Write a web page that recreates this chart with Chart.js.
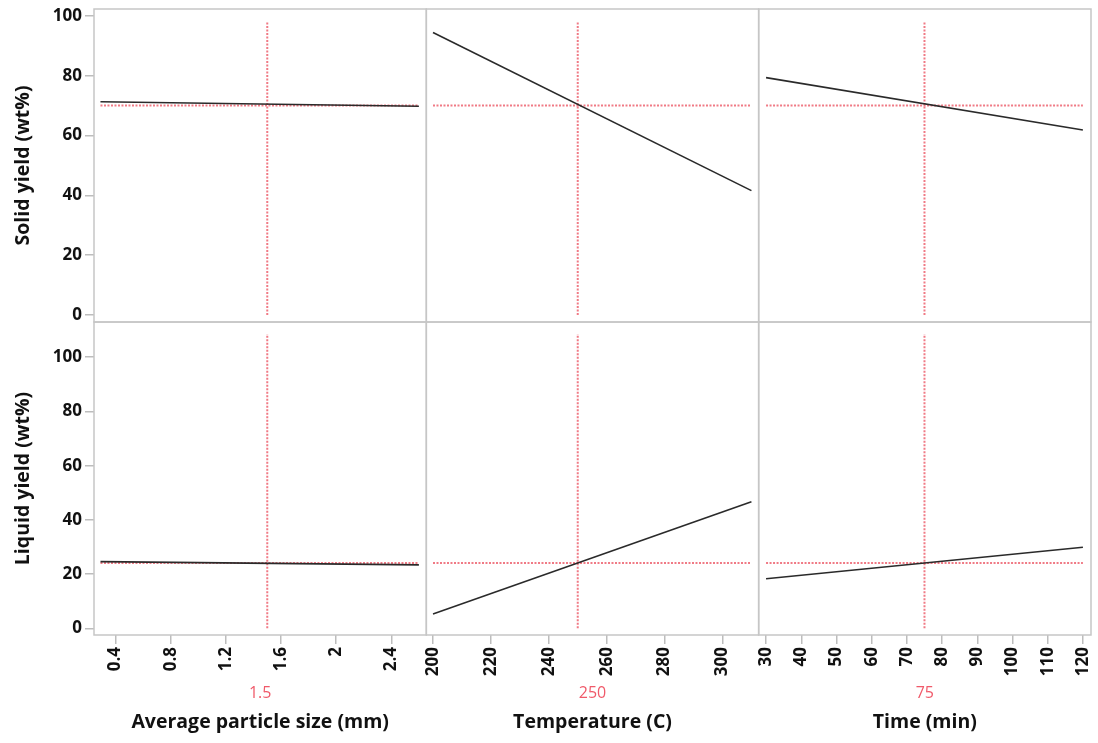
<!DOCTYPE html>
<html>
<head>
<meta charset="utf-8">
<script src="https://cdn.jsdelivr.net/npm/chart.js@4.4.1/dist/chart.umd.min.js"></script>
<style>
  html, body { margin: 0; padding: 0; background: #fff; }
  #wrap { width: 1098px; height: 743px; }
</style>
</head>
<body>
<div id="wrap"><canvas id="profiler"></canvas></div>
<script>
// factors (columns)
const factorNames = ['Average particle size (mm)', 'Temperature (C)', 'Time (min)'];
const factorCurrent = [1.5, 250, 75];
const sizeEnds = [0.29, 2.6];
const tempEnds = [200, 310];
const timeEnds = [30, 120];
const sizeTicks = [0.4, 0.8, 1.2, 1.6, 2, 2.4];
const tempTicks = [200, 220, 240, 260, 280, 300];
const timeTicks = [30, 40, 50, 60, 70, 80, 90, 100, 110, 120];

// responses (rows): predicted value at each end of the factor range
const solidBySize = [71.3, 69.8];
const solidByTemp = [94.5, 41.6];
const solidByTime = [79.4, 61.9];
const liquidBySize = [24.6, 23.4];
const liquidByTemp = [5.3, 46.7];
const liquidByTime = [18.3, 29.9];
const solidCurrent = 70.1;
const liquidCurrent = 24.1;
const solidGuide = [0, 98];
const liquidGuide = [0, 108.6];
const yieldTicks = [0, 20, 40, 60, 80, 100];

const xIds = ['xSize', 'xTemp', 'xTime'];
const yIds = ['ySolid', 'yLiquid'];
const ends = [sizeEnds, tempEnds, timeEnds];
const rows = [
    { id: 'ySolid', values: [solidBySize, solidByTemp, solidByTime], current: solidCurrent, guide: solidGuide },
    { id: 'yLiquid', values: [liquidBySize, liquidByTemp, liquidByTime], current: liquidCurrent, guide: liquidGuide }
];

const red = '#f07a85';
const tickFont = { family: 'Open Sans', size: 17, weight: 'bold' };
const titleFont = { family: 'Open Sans', size: 19.5, weight: 'bold' };

const datasets = [];
rows.forEach(row => {
    xIds.forEach((xId, c) => {
        const [x0, x1] = ends[c];
        datasets.push({
            data: [{ x: x0, y: row.values[c][0] }, { x: x1, y: row.values[c][1] }],
            xAxisID: xId, yAxisID: row.id,
            borderColor: '#2a2a2a', borderWidth: 1.6, order: 0
        });
        datasets.push({
            data: [{ x: x0, y: row.current }, { x: x1, y: row.current }],
            xAxisID: xId, yAxisID: row.id,
            borderColor: red, borderWidth: 2, borderDash: [2, 1.5], order: 1
        });
        datasets.push({
            data: [{ x: factorCurrent[c], y: row.guide[0] }, { x: factorCurrent[c], y: row.guide[1] }],
            xAxisID: xId, yAxisID: row.id,
            borderColor: red, borderWidth: 2, borderDash: [2, 1.5], order: 1
        });
    });
});

function xScale(ticksArr, min, max, title) {
    return {
        type: 'linear', position: 'bottom', stack: 'cols', stackWeight: 1,
        min: min, max: max,
        afterBuildTicks: s => { s.ticks = ticksArr.map(v => ({ value: v })); },
        ticks: {
            font: tickFont, color: '#111', padding: 3, autoSkip: false,
            minRotation: 90, maxRotation: 90, callback: v => String(v)
        },
        grid: { drawOnChartArea: false, tickLength: 9, color: '#bdbdbd', lineWidth: 1.5 },
        border: { display: false },
        title: { display: true, text: title, font: titleFont, color: '#111', padding: { top: 0, bottom: 9 } },
        afterFit: s => { s.height = 108; s.paddingLeft = 0; s.paddingRight = 0; }
    };
}

function yScale(min, max, weight, title) {
    return {
        type: 'linear', position: 'left', stack: 'rows', stackWeight: 1, weight: weight,
        min: min, max: max,
        afterBuildTicks: s => { s.ticks = yieldTicks.map(v => ({ value: v })); },
        ticks: { font: tickFont, color: '#111', padding: 3, callback: v => String(v) },
        grid: { drawOnChartArea: false, tickLength: 9, color: '#bdbdbd', lineWidth: 1.5 },
        border: { display: false },
        title: { display: true, text: title, font: titleFont, color: '#111', padding: { top: 12, bottom: 0 } },
        afterFit: s => { s.width = 94; s.paddingTop = 0; s.paddingBottom = 0; }
    };
}

// panel frames and the red current-value labels
const profilerDecor = {
    id: 'profilerDecor',
    beforeDatasetsDraw(chart) {
        const ctx = chart.ctx;
        ctx.save();
        ctx.strokeStyle = '#c6c6c6';
        ctx.lineWidth = 1.5;
        xIds.forEach(xi => yIds.forEach(yi => {
            const xs = chart.scales[xi], ys = chart.scales[yi];
            ctx.strokeRect(xs.left, ys.top, xs.right - xs.left, ys.bottom - ys.top);
        }));
        ctx.restore();
    },
    afterDraw(chart) {
        const ctx = chart.ctx;
        ctx.save();
        ctx.fillStyle = '#f05a6a';
        ctx.font = '16px "Open Sans"';
        ctx.textAlign = 'center';
        ctx.textBaseline = 'middle';
        xIds.forEach((xi, c) => {
            const xs = chart.scales[xi];
            ctx.fillText(String(factorCurrent[c]), (xs.left + xs.right) / 2, xs.top + 58);
        });
        ctx.restore();
    }
};

new Chart(document.getElementById('profiler'), {
    type: 'line',
    data: { datasets: datasets },
    options: {
        responsive: true,
        maintainAspectRatio: false,
        animation: false,
        layout: { padding: { top: 9, right: 7, left: 0, bottom: 0 } },
        elements: { point: { radius: 0 }, line: { tension: 0, fill: false } },
        plugins: { legend: { display: false }, tooltip: { enabled: false } },
        scales: {
            xSize: xScale(sizeTicks, 0.243, 2.654, factorNames[0]),
            xTemp: xScale(tempTicks, 197.7, 312.5, factorNames[1]),
            xTime: xScale(timeTicks, 27.9, 122.3, factorNames[2]),
            ySolid: yScale(-2.34, 102.34, 1, 'Solid yield (wt%)'),
            yLiquid: yScale(-2.47, 113, 0, 'Liquid yield (wt%)')
        }
    },
    plugins: [profilerDecor]
});
</script>
</body>
</html>
